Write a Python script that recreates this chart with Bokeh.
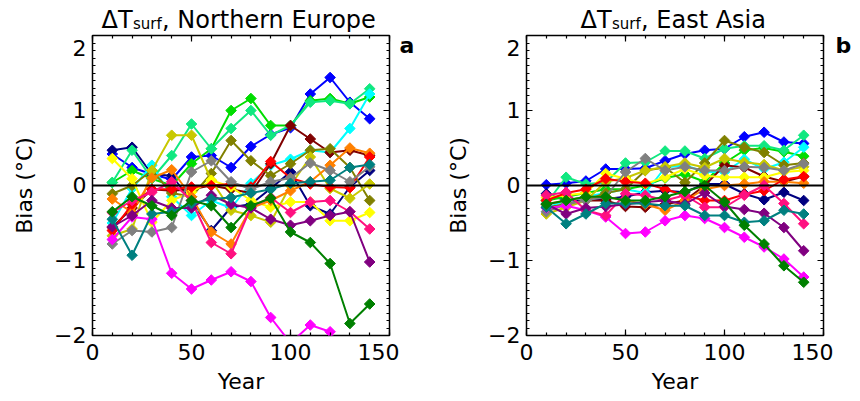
from bokeh.plotting import figure
from bokeh.layouts import row, column
from bokeh.models import (LinearAxis, SingleIntervalTicker, Span, Range1d)
from bokeh.core.properties import value
from bokeh.embed import file_html
from bokeh.resources import INLINE
import numpy as np

years = [10, 20, 30, 40, 50, 60, 70, 80, 90, 100, 110, 120, 130, 140]

colors = {
    "blue": "#0000FF", "navy": "#000080", "lime": "#00DD00", "spring": "#10E880",
    "cyan": "#00FFFF", "maroon": "#800000", "olive": "#808000", "gold": "#C8C800",
    "yellow": "#FFFF00", "orange": "#FF8000", "red": "#FF0000", "gray": "#808080",
    "magenta": "#FF00FF", "pink": "#FF1080", "purple": "#800080", "teal": "#008080",
    "dkgreen": "#008000",
}

# Northern Europe bias (°C)
ne_blue = [0.42, 0.24, 0.15, 0.08, 0.38, 0.40, 0.24, 0.52, 0.68, 0.77, 1.22, 1.44, 1.11, 0.89]
ne_navy = [0.47, 0.51, 0.15, 0.13, -0.20, -0.60, -0.29, -0.25, -0.04, 0.18, -0.27, -0.38, -0.02, 0.20]
ne_lime = [0.04, 0.20, 0.09, 0.00, 0.29, 0.49, 1.00, 1.16, 0.80, 0.80, 1.13, 1.16, 1.09, 1.18]
ne_spring = [0.04, 0.47, 0.09, 0.40, 0.82, 0.49, 0.76, 1.00, 0.67, 0.80, 1.11, 1.13, 1.09, 1.29]
ne_cyan = [-0.50, -0.04, 0.27, -0.15, -0.40, -0.20, -0.30, 0.03, 0.27, 0.35, 0.47, 0.44, 0.76, 1.22]
ne_maroon = [-0.56, -0.30, -0.05, -0.07, -0.05, 0.00, -0.05, -0.10, 0.29, 0.80, 0.62, 0.44, 0.47, 0.40]
ne_olive = [-0.11, 0.00, 0.20, -0.10, -0.15, 0.16, 0.60, 0.33, 0.13, 0.29, 0.47, 0.49, 0.24, -0.20]
ne_gold = [-0.67, -0.58, 0.20, 0.67, 0.67, 0.07, -0.33, -0.40, -0.49, 0.00, 0.38, -0.04, -0.17, 0.02]
ne_yellow = [0.36, 0.09, -0.49, -0.20, -0.09, 0.07, -0.02, -0.20, -0.29, -0.22, -0.22, -0.47, -0.47, -0.36]
ne_orange = [-0.18, -0.36, 0.10, 0.21, -0.15, -0.62, -0.78, -0.30, -0.20, -0.07, 0.05, 0.27, 0.50, 0.43]
ne_red = [-0.60, -0.25, -0.05, -0.05, -0.02, 0.00, 0.02, -0.02, 0.32, 0.10, 0.02, -0.02, -0.03, 0.38]
ne_gray = [-0.78, -0.60, -0.62, -0.56, 0.18, 0.33, 0.05, -0.05, 0.05, 0.10, 0.30, 0.20, 0.05, 0.25]
ne_magenta = [-0.72, -0.42, -0.45, -1.17, -1.38, -1.26, -1.15, -1.28, -1.76, -2.10, -1.86, -1.95, -2.40, -2.60]
ne_pink = [-0.36, -0.20, -0.09, 0.05, -0.20, -0.76, -0.91, -0.29, -0.16, -0.36, -0.22, -0.20, -0.35, -0.58]
ne_purple = [-0.55, -0.40, -0.20, -0.30, -0.30, -0.13, -0.25, -0.30, -0.45, -0.53, -0.47, -0.40, -0.35, -1.02]
ne_teal = [-0.45, -0.93, -0.38, -0.35, -0.24, -0.18, -0.16, -0.10, -0.05, 0.03, 0.05, 0.07, 0.24, 0.28]
ne_dkgreen = [-0.35, -0.15, -0.27, -0.40, -0.20, -0.27, -0.56, -0.27, -0.17, -0.62, -0.76, -1.04, -1.84, -1.58]

# East Asia bias (°C)
ea_blue = [0.01, 0.03, 0.06, 0.22, 0.22, 0.23, 0.33, 0.42, 0.47, 0.49, 0.65, 0.71, 0.58, 0.56]
ea_navy = [-0.11, -0.20, -0.20, -0.18, -0.15, -0.09, -0.07, -0.09, 0.02, 0.02, -0.11, -0.19, -0.09, -0.20]
ea_lime = [-0.20, -0.15, -0.10, -0.05, -0.05, 0.00, 0.10, 0.15, 0.05, 0.30, 0.47, 0.50, 0.45, 0.39]
ea_spring = [-0.24, 0.11, 0.02, 0.04, 0.30, 0.31, 0.46, 0.46, 0.36, 0.49, 0.53, 0.53, 0.47, 0.67]
ea_cyan = [-0.30, -0.20, -0.15, -0.10, -0.05, -0.10, 0.24, 0.27, 0.18, 0.18, 0.35, 0.22, 0.31, 0.51]
ea_maroon = [-0.30, -0.25, -0.20, -0.20, -0.28, -0.29, -0.25, -0.20, 0.00, 0.27, 0.24, 0.12, 0.05, 0.12]
ea_olive = [-0.30, -0.25, -0.20, -0.10, -0.05, 0.20, 0.24, 0.04, 0.30, 0.60, 0.51, 0.44, 0.27, 0.30]
ea_gold = [-0.38, -0.29, -0.20, 0.05, 0.10, 0.20, 0.25, 0.30, 0.24, 0.36, 0.31, 0.28, 0.20, 0.25]
ea_yellow = [-0.16, -0.13, -0.10, 0.16, 0.09, 0.02, 0.11, 0.22, 0.13, 0.11, 0.11, 0.11, 0.18, 0.20]
ea_orange = [-0.25, -0.20, -0.15, -0.15, -0.20, -0.25, -0.33, -0.20, -0.05, 0.00, 0.02, 0.05, 0.05, 0.03]
ea_red = [-0.20, -0.10, -0.05, 0.09, 0.05, 0.03, -0.05, -0.13, -0.20, -0.20, -0.12, -0.07, 0.08, 0.12]
ea_gray = [-0.35, -0.25, -0.20, -0.15, 0.18, 0.36, 0.20, 0.25, 0.20, 0.20, 0.25, 0.24, 0.20, 0.29]
ea_magenta = [-0.30, -0.27, -0.33, -0.42, -0.64, -0.62, -0.47, -0.40, -0.44, -0.56, -0.69, -0.82, -0.98, -1.22]
ea_pink = [-0.13, -0.09, -0.33, -0.40, -0.11, -0.13, -0.20, -0.13, -0.29, -0.29, -0.13, 0.00, -0.24, -0.51]
ea_purple = [-0.25, -0.38, -0.30, -0.28, -0.25, -0.22, -0.20, -0.25, -0.10, -0.28, -0.32, -0.37, -0.56, -0.87]
ea_teal = [-0.29, -0.51, -0.38, -0.24, -0.24, -0.24, -0.27, -0.27, -0.40, -0.40, -0.49, -0.47, -0.33, -0.38]
ea_dkgreen = [-0.25, -0.20, -0.15, -0.15, -0.20, -0.20, -0.15, -0.08, 0.00, -0.22, -0.53, -0.78, -1.07, -1.29]

ne_series = {"blue": ne_blue, "navy": ne_navy, "lime": ne_lime, "spring": ne_spring,
             "cyan": ne_cyan, "maroon": ne_maroon, "olive": ne_olive, "gold": ne_gold,
             "yellow": ne_yellow, "orange": ne_orange, "red": ne_red, "gray": ne_gray,
             "magenta": ne_magenta, "pink": ne_pink, "purple": ne_purple, "teal": ne_teal,
             "dkgreen": ne_dkgreen}
ea_series = {"blue": ea_blue, "navy": ea_navy, "lime": ea_lime, "spring": ea_spring,
             "cyan": ea_cyan, "maroon": ea_maroon, "olive": ea_olive, "gold": ea_gold,
             "yellow": ea_yellow, "orange": ea_orange, "red": ea_red, "gray": ea_gray,
             "magenta": ea_magenta, "pink": ea_pink, "purple": ea_purple, "teal": ea_teal,
             "dkgreen": ea_dkgreen}

titles = ["Northern Europe", "East Asia"]
letters = ["a", "b"]
y_tick_labels = {2: "\n2", -1: "\u22121", -2: "\u22122"}

FONT = "DejaVu Sans"
FS = "22px"
HEADER_H = 32
PANEL_H = 369


def blank_fig(w, h):
    f = figure(frame_width=w, frame_height=h, x_range=Range1d(0, w), y_range=Range1d(h, 0),
               output_backend="svg", toolbar_location=None,
               x_axis_type=None, y_axis_type=None, title=None,
               min_border=0, min_border_left=0, min_border_right=0,
               min_border_top=0, min_border_bottom=0)
    f.outline_line_color = None
    f.grid.visible = False
    f.background_fill_color = "white"
    f.border_fill_color = "white"
    return f


def make_panel(series, left_border):
    p = figure(frame_width=297, frame_height=300, output_backend="svg", title=None,
               toolbar_location=None, x_range=Range1d(0, 150), y_range=Range1d(-2, 2),
               min_border_left=left_border, min_border_right=10,
               min_border_top=3, min_border_bottom=66)
    p.background_fill_color = "white"
    p.border_fill_color = "white"
    p.outline_line_color = "black"
    p.outline_line_width = 1.5
    p.grid.visible = False

    for name, vals in series.items():
        c = colors[name]
        p.line(years, vals, line_color=c, line_width=2)
        p.scatter(years, vals, marker="square", size=7.5, angle=np.pi / 4,
                  fill_color=c, line_color=c)

    p.add_layout(Span(location=0, dimension="width", line_color="black", line_width=2))

    p.xaxis.ticker = SingleIntervalTicker(interval=50, num_minor_ticks=5)
    p.yaxis.ticker = SingleIntervalTicker(interval=1, num_minor_ticks=10)
    p.yaxis.major_label_overrides = y_tick_labels
    p.yaxis.major_label_text_line_height = 0.15
    p.xaxis.axis_label = "Year"
    p.yaxis.axis_label = "Bias (\u00b0C)"
    for ax in [p.xaxis[0], p.yaxis[0]]:
        ax.axis_line_color = None
        ax.major_tick_in = 6
        ax.major_tick_out = 0
        ax.minor_tick_in = 3
        ax.minor_tick_out = 0
        ax.major_tick_line_width = 1.2
        ax.minor_tick_line_width = 1.2
        ax.major_label_text_font = FONT
        ax.major_label_text_font_size = FS
        ax.major_label_text_color = "black"
        ax.axis_label_text_font = FONT
        ax.axis_label_text_font_size = FS
        ax.axis_label_text_font_style = "normal"
        ax.axis_label_text_color = "black"
    p.xaxis.major_label_standoff = 8
    p.xaxis.axis_label_standoff = 6
    p.yaxis.major_label_standoff = 6
    p.yaxis.axis_label_standoff = 14

    top = LinearAxis(ticker=SingleIntervalTicker(interval=50, num_minor_ticks=5))
    right = LinearAxis(ticker=SingleIntervalTicker(interval=1, num_minor_ticks=10))
    for ax in [top, right]:
        ax.axis_line_color = None
        ax.major_tick_in = 6
        ax.major_tick_out = 0
        ax.minor_tick_in = 3
        ax.minor_tick_out = 0
        ax.major_tick_line_width = 1.2
        ax.minor_tick_line_width = 1.2
        ax.major_label_text_font_size = "1px"
        ax.major_label_text_color = None
        ax.major_label_text_alpha = 0
        ax.major_label_standoff = 0
    p.add_layout(top, "above")
    p.add_layout(right, "right")
    return p


# header with the two titles (ΔT with subscript "surf")
header = blank_fig(860, HEADER_H)
title_starts = [101, 580]
for t, x0 in zip(titles, title_starts):
    header.text(x=[x0], y=[19], text=["\u0394T"], text_font=value(FONT),
                text_font_size="24px", text_baseline="alphabetic", text_color="black")
    header.text(x=[x0 + 31.5], y=[23], text=["surf"], text_font=value(FONT),
                text_font_size="15px", text_baseline="alphabetic", text_color="black")
    header.text(x=[x0 + 60.5], y=[19], text=[", " + t], text_font=value(FONT),
                text_font_size="24px", text_baseline="alphabetic", text_color="black")

p1 = make_panel(ne_series, 92)     # 92 + 297 + 10 = 399
p2 = make_panel(ea_series, 96)     # 96 + 297 + 10 = 403

sa = blank_fig(31, PANEL_H)
sa.text(x=[0], y=[10], text=[letters[0]], text_font=value(FONT), text_font_size="22px",
        text_font_style="bold", text_baseline="alphabetic", text_color="black")
sb = blank_fig(27, PANEL_H)
sb.text(x=[2], y=[10], text=[letters[1]], text_font=value(FONT), text_font_size="22px",
        text_font_style="bold", text_baseline="alphabetic", text_color="black")

layout = column(header, row(p1, sa, p2, sb))

open("out.html", "w").write(file_html(layout, INLINE))
